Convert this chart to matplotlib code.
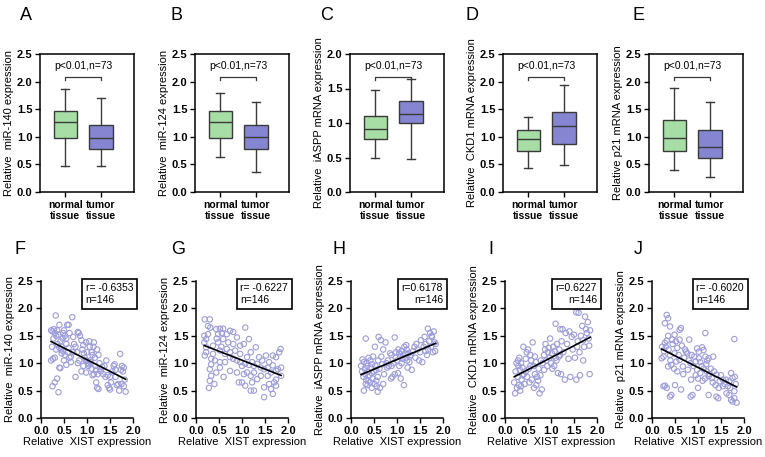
import numpy as np
import matplotlib
matplotlib.use("Agg")
import matplotlib.pyplot as plt

plt.rcParams['font.family'] = ['Liberation Sans', 'DejaVu Sans']

# ---- box plot panels (min, q1, median, q3, max) ----
box_letters = ["A", "B", "C", "D", "E"]
box_ylabels = ["Relative  miR-140 expression", "Relative  miR-124 expression",
               "Relative  iASPP mRNA expression", "Relative  CKD1 mRNA expression",
               "Relative p21 mRNA expression"]
box_ymax = [2.5, 2.5, 2.0, 2.5, 2.5]
groups = ["normal\ntissue", "tumor\ntissue"]
normal_stats = [
    [0.47, 0.97, 1.26, 1.46, 1.87],
    [0.64, 0.97, 1.26, 1.47, 1.79],
    [0.49, 0.77, 0.92, 1.10, 1.48],
    [0.44, 0.75, 0.96, 1.12, 1.35],
    [0.40, 0.74, 0.97, 1.30, 1.88],
]
tumor_stats = [
    [0.48, 0.78, 0.98, 1.21, 1.71],
    [0.37, 0.78, 0.99, 1.22, 1.63],
    [0.48, 1.00, 1.13, 1.32, 1.64],
    [0.49, 0.87, 1.19, 1.45, 1.93],
    [0.28, 0.62, 0.81, 1.13, 1.63],
]
p_text = "p<0.01,n=73"

# ---- scatter panels ----
sc_letters = ["F", "G", "H", "I", "J"]
sc_ylabels = ["Relative  miR-140 expression", "Relative  miR-124 expression",
              "Relative  iASPP mRNA expression", "Relative  CKD1 mRNA expression",
              "Relative  p21 mRNA expression"]
sc_r = ["r= -0.6353\nn=146", "r= -0.6227\nn=146", "r=0.6178\nn=146",
        "r=0.6227\nn=146", "r= -0.6020\nn=146"]
sc_align = ["left", "left", "right", "right", "left"]

f_pts = [(0.22,1.60),(0.25,1.58),(0.28,1.62),(0.30,1.55),(0.32,1.87),(0.33,1.50),(0.27,1.45),(0.24,1.30),
         (0.22,1.05),(0.26,1.08),(0.30,1.10),(0.35,1.60),(0.38,1.52),(0.40,1.70),(0.42,1.40),(0.36,1.35),
         (0.40,1.28),(0.44,1.25),(0.33,1.25),(0.25,0.58),(0.30,0.65),(0.35,0.72),(0.38,0.47),(0.40,0.92),
         (0.42,0.91),(0.45,1.30),(0.47,1.45),(0.50,1.60),(0.48,1.55),(0.52,1.50),(0.55,1.45),(0.57,1.70),
         (0.60,1.70),(0.62,1.55),(0.55,1.35),(0.58,1.20),(0.60,1.28),(0.52,1.15),(0.50,1.05),(0.55,0.97),
         (0.62,1.10),(0.65,1.12),(0.68,1.84),(0.70,1.48),(0.72,1.35),(0.75,1.30),(0.78,1.20),(0.80,1.57),
         (0.82,1.55),(0.85,1.50),(0.80,1.00),(0.83,1.05),(0.75,0.75),(0.88,1.42),(0.90,1.25),(0.92,1.33),
         (0.95,1.10),(0.97,1.05),(0.98,1.38),(1.00,1.20),(1.02,1.00),(1.03,0.95),(1.05,1.40),(1.06,1.30),
         (1.08,1.05),(1.10,0.90),(1.12,1.15),(1.14,1.30),(1.15,1.38),(1.17,1.10),(1.18,0.95),(1.20,0.88),
         (1.22,1.25),(1.23,0.80),(1.20,0.65),(1.22,0.55),(1.25,0.53),(1.27,1.00),(1.28,0.90),(1.30,0.85),
         (1.00,1.05),(1.04,0.98),(1.07,1.02),(0.98,0.83),(0.92,0.95),(0.88,0.85),(1.12,0.78),(1.15,0.80),
         (1.35,0.80),(1.38,0.95),(1.40,0.75),(1.42,1.05),(1.45,0.60),(1.48,0.55),(1.50,0.52),(1.52,0.65),
         (1.55,0.85),(1.58,0.95),(1.60,0.98),(1.62,0.75),(1.65,0.60),(1.68,0.62),(1.70,0.50),(1.72,1.17),
         (1.74,0.88),(1.76,0.95),(1.78,0.85),(1.80,0.92),(1.82,0.70),(1.84,0.48),(1.80,0.58),(1.75,0.62),
         (1.62,0.88),(1.50,0.75),(1.45,0.78),(1.33,0.93),(0.70,1.20),(0.65,1.02),(0.45,1.18),(0.48,1.22),
         (1.25,1.15),(1.10,1.20),(0.93,1.18)]

g_pts = [(0.19,1.80),(0.30,1.80),(0.26,1.68),(0.31,1.65),(0.44,1.62),(0.52,1.63),(0.59,1.63),(0.48,1.53),
         (0.56,1.55),(0.67,1.53),(0.74,1.59),(0.81,1.57),(0.89,1.47),(1.07,1.65),(1.15,1.44),(0.96,1.32),
         (1.04,1.35),(0.81,1.35),(0.67,1.26),(0.63,1.17),(0.52,1.23),(0.37,1.17),(0.22,1.29),(0.19,1.14),
         (0.33,1.08),(0.41,1.05),(0.52,1.02),(0.63,1.02),(0.74,1.11),(0.81,1.08),(0.89,1.05),(0.96,1.02),
         (1.00,0.95),(1.07,0.99),(1.15,0.97),(1.22,1.02),(1.26,0.95),(1.33,0.99),(1.41,0.92),(1.48,0.89),
         (1.56,0.92),(1.63,0.83),(1.74,0.86),(1.78,0.89),(1.85,0.92),(1.81,1.20),(1.67,1.14),(1.74,1.11),
         (1.84,1.26),(1.56,0.77),(1.41,0.77),(1.26,0.83),(1.19,0.77),(1.11,0.83),(1.04,0.80),(1.00,0.65),
         (1.07,0.59),(1.22,0.65),(1.33,0.71),(1.26,0.50),(1.19,0.50),(1.48,0.56),(1.59,0.62),(1.70,0.65),
         (1.74,0.59),(1.63,0.53),(1.48,0.38),(1.67,0.44),(1.74,0.70),(1.85,0.77),(0.30,0.89),(0.33,0.77),
         (0.30,0.68),(0.44,0.83),(0.74,0.86),(0.89,0.83),(0.33,0.98),(0.22,1.44),(0.26,1.53),(0.18,1.50),
         (0.18,1.38),(0.22,1.20),(0.37,1.32),(0.48,1.38),(0.59,1.44),(0.70,1.38),(0.74,1.20),(0.85,1.23),
         (0.96,1.17),(1.19,1.20),(1.30,1.29),(1.37,1.11),(1.44,1.05),(1.11,1.11),(1.52,1.14),(1.59,1.02),
         (1.67,0.96),(0.52,0.92),(0.93,0.65),(0.28,0.55),(0.40,0.62),(0.60,0.75),(0.45,1.45),(0.55,1.30)]

h_pts = [(0.22,0.95),(0.24,0.85),(0.25,1.07),(0.27,0.75),(0.28,0.50),(0.30,0.90),(0.31,0.80),(0.32,1.45),
         (0.33,0.70),(0.34,1.00),(0.35,0.95),(0.36,0.60),(0.37,0.85),(0.38,1.10),(0.40,0.78),(0.41,0.65),
         (0.42,1.05),(0.43,0.92),(0.45,0.55),(0.46,0.98),(0.47,0.72),(0.48,1.12),(0.50,0.85),(0.51,0.62),
         (0.52,1.30),(0.53,0.95),(0.55,0.68),(0.56,0.58),(0.58,0.48),(0.59,1.05),(0.60,1.48),(0.62,0.90),
         (0.63,0.55),(0.65,1.42),(0.66,1.12),(0.68,0.98),(0.70,1.25),(0.72,0.80),(0.75,1.38),(0.77,1.00),
         (0.79,0.92),(0.80,1.05),(0.82,0.95),(0.85,1.18),(0.87,0.72),(0.88,1.15),(0.90,0.75),(0.92,1.00),
         (0.95,1.47),(0.97,1.10),(0.98,1.20),(1.00,1.05),(1.02,0.82),(1.03,1.25),(1.05,1.18),(1.07,1.12),
         (1.08,0.72),(1.10,1.22),(1.12,1.08),(1.13,1.15),(1.15,0.60),(1.16,1.30),(1.18,1.10),(1.20,1.33),
         (1.21,1.25),(1.22,1.05),(1.23,0.92),(1.25,1.18),(1.27,1.02),(1.28,1.12),(1.30,1.15),(1.32,0.88),
         (1.35,1.22),(1.38,1.30),(1.40,1.10),(1.42,1.35),(1.45,1.25),(1.48,1.05),(1.50,1.20),(1.52,1.42),
         (1.55,1.02),(1.58,1.30),(1.60,1.48),(1.62,1.35),(1.65,1.15),(1.67,1.63),(1.68,1.25),(1.70,1.40),
         (1.72,1.55),(1.74,1.30),(1.76,1.48),(1.78,1.20),(1.80,1.58),(1.82,1.38),(1.84,1.35),(1.83,1.22),
         (1.75,1.50),(1.62,1.22),(0.95,0.80),(0.45,0.82),(0.38,0.68),(0.55,0.88),(0.28,1.02),(0.32,0.62),
         (0.58,0.75),(0.70,0.62),(1.05,0.95),(0.88,0.95),(1.18,1.18),(1.10,1.00)]

i_pts = [(0.20,0.65),(0.22,0.45),(0.23,0.85),(0.25,1.00),(0.26,0.55),(0.28,0.75),(0.29,0.95),(0.30,0.60),
         (0.31,1.10),(0.32,0.88),(0.33,0.50),(0.35,1.00),(0.36,0.70),(0.38,0.92),(0.40,1.30),(0.41,0.80),
         (0.43,0.62),(0.45,1.08),(0.47,1.20),(0.48,0.75),(0.50,1.25),(0.52,0.90),(0.53,0.65),(0.55,1.15),
         (0.57,1.05),(0.58,0.70),(0.60,1.38),(0.62,0.95),(0.63,0.55),(0.65,0.80),(0.67,1.02),(0.68,0.60),
         (0.70,0.75),(0.72,0.68),(0.73,0.90),(0.75,0.45),(0.77,0.78),(0.78,1.05),(0.80,0.52),(0.82,1.00),
         (0.85,1.15),(0.87,1.25),(0.88,1.35),(0.90,1.05),(0.92,0.95),(0.93,1.20),(0.95,1.28),(0.97,1.10),
         (0.98,1.45),(1.00,1.00),(1.02,1.18),(1.03,0.90),(1.05,1.30),(1.07,0.95),(1.08,1.22),(1.10,1.72),
         (1.12,1.05),(1.13,1.35),(1.15,0.82),(1.17,1.12),(1.18,1.25),(1.20,1.62),(1.22,0.80),(1.23,1.40),
         (1.25,1.62),(1.27,1.20),(1.30,0.70),(1.32,1.55),(1.35,1.35),(1.38,1.08),(1.40,1.58),(1.42,0.75),
         (1.45,1.48),(1.47,1.25),(1.50,1.52),(1.52,1.10),(1.55,1.93),(1.57,1.30),(1.58,1.40),(1.60,1.92),
         (1.62,1.20),(1.63,0.78),(1.65,1.50),(1.68,1.68),(1.70,1.42),(1.72,1.30),(1.74,1.85),(1.76,1.62),
         (1.78,1.55),(1.80,1.75),(1.82,1.45),(1.84,0.80),(1.85,1.60),(1.83,1.32),(1.70,1.05),(1.55,0.70),
         (0.45,0.85),(0.38,0.78),(0.55,0.95),(0.65,1.12),(0.85,0.88),(1.10,1.10),(1.20,1.15),(0.28,1.05),
         (0.35,0.58)]

j_pts = [(0.32,1.88),(0.35,1.82),(0.28,1.73),(0.39,1.67),(0.63,1.64),(0.60,1.61),(0.49,1.52),(0.35,1.50),
         (0.44,1.43),(0.32,1.41),(0.28,1.37),(0.60,1.43),(0.81,1.43),(1.16,1.55),(1.79,1.44),(0.25,1.12),
         (0.21,1.09),(0.39,1.15),(0.49,1.18),(0.74,1.21),(0.77,1.18),(0.98,1.27),(1.09,1.29),(1.12,1.24),
         (1.02,1.21),(0.60,1.06),(0.53,1.03),(0.42,0.97),(0.35,0.94),(0.67,0.94),(0.84,1.00),(0.95,1.03),
         (1.02,1.09),(1.16,1.12),(1.23,1.09),(1.33,1.12),(0.98,0.88),(1.05,0.82),(1.19,0.85),(1.23,0.76),
         (1.30,0.73),(1.40,0.79),(1.47,0.67),(1.54,0.70),(1.61,0.70),(1.68,0.67),(1.72,0.82),(1.75,0.73),
         (1.65,0.58),(1.54,0.58),(1.79,0.49),(1.68,0.42),(1.72,0.33),(1.79,0.36),(1.44,0.36),(1.40,0.39),
         (1.23,0.42),(0.88,0.42),(0.84,0.39),(0.63,0.52),(0.42,0.42),(0.39,0.39),(0.28,0.59),(0.32,0.55),
         (0.25,0.58),(0.30,1.30),(0.36,1.25),(0.45,1.35),(0.52,1.40),(0.55,1.28),(0.65,1.32),(0.70,1.10),
         (0.72,1.25),(0.80,1.05),(0.86,1.15),(0.90,0.95),(0.92,1.12),(0.95,0.78),(1.00,0.72),(1.05,1.02),
         (1.08,0.95),(1.10,0.68),(1.12,0.90),(1.15,0.72),(1.18,0.98),(1.20,1.05),(1.25,0.80),(1.28,0.90),
         (1.32,0.65),(1.35,0.85),(1.38,0.60),(1.45,0.55),(1.50,0.78),(1.58,0.62),(1.62,0.45),(1.70,0.55),
         (1.75,0.30),(1.82,0.62),(1.84,0.28),(1.80,0.75),(0.48,0.90),(0.55,0.85),(0.58,1.15),(0.40,1.05),
         (0.22,1.30),(0.26,1.22),(0.68,0.80),(0.78,0.88),(0.85,0.70),(1.00,0.55),(0.50,0.60)]

sc_pts = [f_pts, g_pts, h_pts, i_pts, j_pts]

W, H = 765, 457
green = "#a6dea6"
purple = "#8585d2"
pt_col = "#9c9cdc"


def px_axes(fig, left, top, w, h):
    return fig.add_axes([left / W, 1 - (top + h) / H, w / W, h / H])


fig = plt.figure(figsize=(W / 100, H / 100), dpi=100)

top_lefts = [40, 195, 350, 503, 649]
bot_lefts = [41, 196, 351, 505, 652]
top_letter_x = [20, 170, 320, 466, 633]
bot_letter_x = [15, 171, 332, 488, 634]

for k in range(5):
    ax = px_axes(fig, top_lefts[k], 54, 94, 138)
    stats = []
    for s in (normal_stats[k], tumor_stats[k]):
        stats.append(dict(whislo=s[0], q1=s[1], med=s[2], q3=s[3], whishi=s[4], fliers=[]))
    bp = ax.bxp(stats, positions=[1, 2], widths=0.66, patch_artist=True, showfliers=False,
                boxprops=dict(edgecolor="#3a3a3a", linewidth=1.0),
                medianprops=dict(color="#3a3a3a", linewidth=1.0),
                whiskerprops=dict(color="#3a3a3a", linewidth=1.0),
                capprops=dict(color="#3a3a3a", linewidth=1.0))
    for patch, c in zip(bp["boxes"], [green, purple]):
        patch.set_facecolor(c)
    for cap in bp["caps"]:
        m = np.mean(cap.get_xdata())
        cap.set_xdata([m - 0.11, m + 0.11])
    ym = box_ymax[k]
    ax.set_xlim(0.29, 2.92)
    ax.set_ylim(0, ym)
    ax.set_yticks(np.arange(0, ym + 0.01, 0.5))
    ax.set_yticklabels(["%.1f" % v for v in np.arange(0, ym + 0.01, 0.5)], fontweight="bold", fontsize=8)
    ax.set_xticks([1, 2])
    ax.set_xticklabels(groups, fontweight="bold", fontsize=7.5, linespacing=1.15)
    ax.tick_params(direction="out", length=3.5, width=1.0, pad=2)
    for sp in ax.spines.values():
        sp.set_linewidth(1.1)
    ax.set_ylabel(box_ylabels[k], fontsize=8, labelpad=2)
    # significance bracket
    yb = ym * 0.836
    yd = ym * 0.028
    ax.plot([1, 1, 2, 2], [yb - yd, yb, yb, yb - yd], color="#3a3a3a", lw=0.9)
    ax.text(1.5, yb + ym * 0.04, p_text, ha="center", va="bottom", fontsize=7.5)
    fig.text(top_letter_x[k] / W, 1 - 15 / H, box_letters[k], fontsize=13, va="center", ha="left")

for k in range(5):
    ax = px_axes(fig, bot_lefts[k], 281, 92, 137)
    pts = np.array(sc_pts[k])
    ax.scatter(pts[:, 0], pts[:, 1], s=15, facecolors="none", edgecolors=pt_col, linewidths=0.8)
    slope, icpt = np.polyfit(pts[:, 0], pts[:, 1], 1)
    xs = np.array([pts[:, 0].min(), pts[:, 0].max()])
    ax.plot(xs, slope * xs + icpt, color="black", lw=1.2)
    ax.set_xlim(0, 2.0)
    ax.set_ylim(0, 2.5)
    ticks = np.arange(0, 2.51, 0.5)
    ax.set_yticks(ticks)
    ax.set_yticklabels(["%.1f" % v for v in ticks], fontweight="bold", fontsize=8)
    xt = np.arange(0, 2.01, 0.5)
    ax.set_xticks(xt)
    ax.set_xticklabels(["%.1f" % v for v in xt], fontweight="bold", fontsize=8)
    ax.tick_params(direction="out", length=3.5, width=1.0, pad=2)
    ax.spines["top"].set_visible(False)
    ax.spines["right"].set_visible(False)
    ax.spines["left"].set_linewidth(1.1)
    ax.spines["bottom"].set_linewidth(1.1)
    ax.set_ylabel(sc_ylabels[k], fontsize=8, labelpad=2)
    ax.set_xlabel("Relative  XIST expression", fontsize=8, labelpad=1)
    ax.text(1.0, 0.985, sc_r[k], transform=ax.transAxes, ha="right", va="top", fontsize=7.5,
            multialignment=sc_align[k], linespacing=1.3,
            bbox=dict(boxstyle="square,pad=0.35", fc="white", ec="black", lw=1.2))
    fig.text(bot_letter_x[k] / W, 1 - 249 / H, sc_letters[k], fontsize=13, va="center", ha="left")

fig.savefig("out.png", dpi=100)
